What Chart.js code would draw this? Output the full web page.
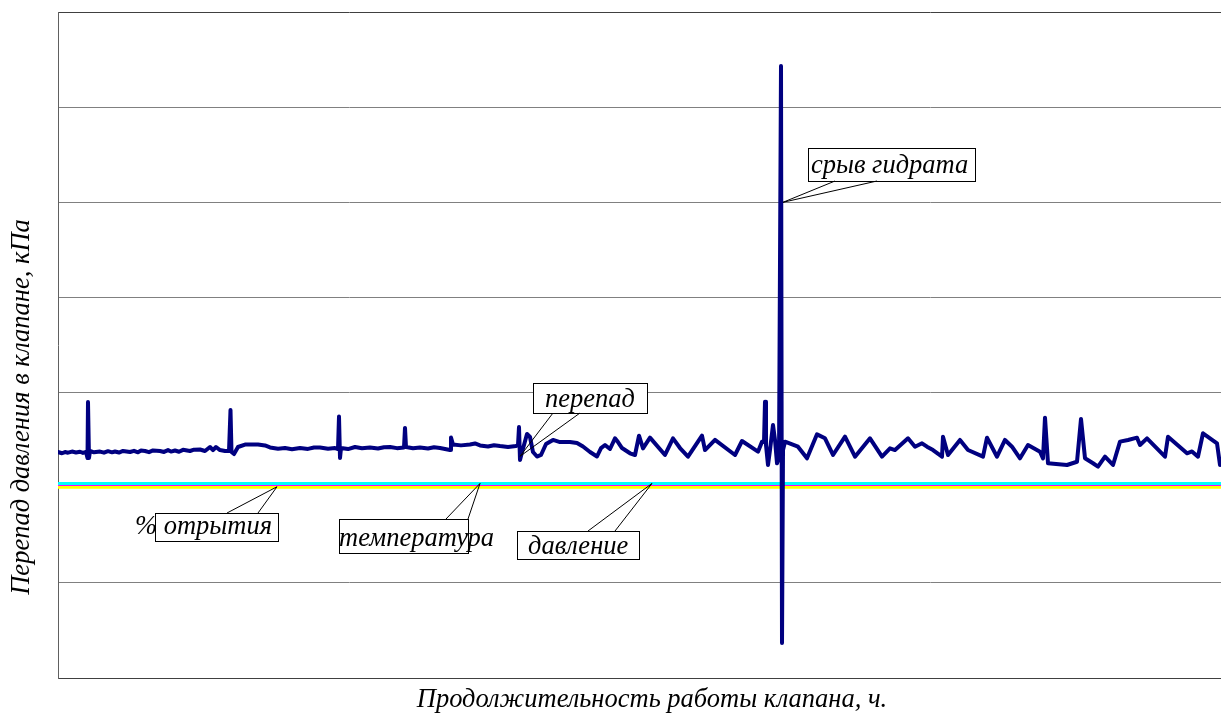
<!DOCTYPE html>
<html>
<head>
<meta charset="utf-8">
<script src="https://cdn.jsdelivr.net/npm/chart.js@4/dist/chart.umd.min.js"></script>
<style>
  html, body { margin: 0; padding: 0; background: #fff; }
  #wrap { width: 1221px; height: 716px; }
</style>
</head>
<body>
<div id="wrap"><canvas id="myChart"></canvas></div>
<script>
// hours of valve operation
const hours = [
  0, 0.4, 0.7, 1.0, 1.4, 1.8, 2.2, 2.5, 2.8, 2.95,
  3.0, 3.1, 3.2, 3.6, 4.2, 4.6, 5.0, 5.4, 5.7, 6.1,
  6.5, 7.2, 7.6, 8.0, 8.3, 8.7, 9.1, 9.5, 10.2, 10.6,
  11.0, 11.3, 11.7, 12.1, 12.5, 13.2, 13.6, 14.2, 14.7, 15.2,
  15.5, 15.8, 16.2, 16.7, 17.1, 17.25, 17.35, 17.6, 18.0, 18.7,
  20.0, 20.7, 21.2, 22.0, 22.7, 23.4, 24.2, 25.0, 25.6, 26.2,
  27.0, 27.7, 28.0, 28.1, 28.2, 28.3, 29.0, 29.7, 30.4, 31.2,
  32.0, 32.6, 33.2, 33.9, 34.6, 34.7, 34.8, 35.5, 36.2, 37.0,
  37.6, 38.2, 39.2, 39.3, 39.5, 40.3, 41.2, 41.7, 42.2, 43.0,
  43.6, 44.2, 45.0, 45.8, 46.0, 46.1, 46.2, 46.4, 46.6, 46.9,
  47.2, 47.5, 47.9, 48.3, 48.8, 49.5, 50.2, 51.2, 51.9, 52.5,
  53.2, 53.9, 54.3, 54.7, 55.2, 55.7, 56.0, 56.4, 57.2, 57.7,
  58.1, 58.5, 59.2, 60.7, 61.5, 62.2, 63.0, 64.4, 64.7, 65.7,
  67.7, 68.4, 70.0, 70.4, 70.6, 70.7, 70.8, 71.0, 71.2, 71.5,
  71.7, 71.9, 72.1, 72.3, 72.4, 72.5, 72.7, 74.0, 74.9, 75.9,
  76.7, 77.5, 78.7, 79.7, 81.2, 82.4, 83.2, 83.7, 85.0, 85.7,
  86.4, 86.9, 87.5, 88.4, 88.5, 89.0, 90.2, 91.0, 92.5, 92.9,
  93.9, 94.7, 95.4, 96.2, 97.0, 98.2, 98.5, 98.7, 99.0, 100.9,
  101.9, 102.3, 102.7, 103.5, 104.0, 104.7, 105.5, 106.2, 107.0, 107.9,
  108.2, 108.9, 110.7, 111.0, 112.9, 113.4, 114.0, 114.5, 115.9, 116.2
];

// pressure drop in the valve, kPa
const perepad = [
  23.75, 23.62, 23.75, 23.68, 23.80, 23.70, 23.78, 23.66, 23.75, 23.12,
  29.01, 23.12, 23.86, 23.72, 23.80, 23.68, 23.84, 23.72, 23.81, 23.70,
  23.86, 23.75, 23.88, 23.72, 23.90, 23.86, 23.74, 23.92, 23.86, 23.76,
  23.95, 23.80, 23.91, 23.78, 23.98, 23.86, 24.00, 24.02, 23.86, 24.28,
  23.96, 24.28, 23.96, 23.86, 23.86, 28.17, 23.75, 23.54, 24.28, 24.54,
  24.54, 24.44, 24.23, 24.10, 24.17, 24.05, 24.17, 24.08, 24.22, 24.23,
  24.10, 24.17, 24.07, 27.48, 23.12, 24.17, 24.06, 24.28, 24.15, 24.23,
  24.12, 24.26, 24.28, 24.16, 24.23, 26.28, 24.28, 24.15, 24.23, 24.12,
  24.25, 24.17, 23.96, 25.28, 24.54, 24.45, 24.54, 24.65, 24.44, 24.33,
  24.47, 24.38, 24.28, 24.38, 24.49, 26.38, 22.91, 23.75, 24.49, 25.65,
  25.33, 23.75, 23.28, 23.44, 24.59, 25.02, 24.80, 24.80, 24.70, 24.33,
  23.75, 23.28, 24.17, 24.49, 24.07, 25.19, 24.80, 24.17, 23.62, 23.44,
  25.47, 24.14, 25.26, 23.44, 25.19, 24.17, 23.26, 25.47, 23.96, 25.02,
  23.44, 24.91, 23.79, 24.84, 24.80, 29.04, 24.49, 22.39, 23.96, 26.59,
  25.02, 22.57, 23.12, 64.32, 3.68, 23.96, 24.84, 24.31, 23.09, 25.61,
  25.19, 23.44, 25.36, 23.26, 25.19, 23.26, 24.14, 23.96, 25.19, 24.31,
  24.67, 24.31, 23.96, 23.26, 25.36, 23.44, 25.02, 23.96, 23.26, 25.26,
  23.26, 25.02, 24.31, 23.09, 24.49, 23.79, 23.09, 27.36, 22.57, 22.39,
  22.73, 27.22, 23.09, 22.57, 22.21, 23.26, 22.39, 24.84, 25.02, 25.26,
  24.49, 25.19, 23.26, 25.36, 23.62, 23.81, 23.26, 25.72, 24.67, 22.39
];

// the other three signals, flat over the whole run
const flatHours = [0, 116.3];
const otkrytie = [20.45, 20.45];
const temperatura = [20.25, 20.25];
const davlenie = [20.05, 20.05];

const yMin = 0;
const yMax = 70;
const yStep = 10;
const xMax = 116.3;

const xTitle = 'Продолжительность работы клапана, ч.';
const yTitle = 'Перепад давления в клапане, кПа';

function toPoints(xs, ys) {
  return xs.map((x, i) => ({ x: x, y: ys[i] }));
}

// callouts: text, the point it shows (data units), box and pointer base in pixels
const callouts = [
  { text: 'срыв гидрата', at: [72.5, 50], box: [808, 148, 975, 181], tx: 811, ty: 173, base: [[835, 181], [877, 181]] },
  { text: 'перепад', at: [46.2, 23.3], box: [533, 383, 647, 413], tx: 545, ty: 407, base: [[553, 413], [580, 413]] },
  { text: '% отрытия', at: [21.9, 20.1], box: [155, 513, 278, 541], tx: 135, ty: 534, base: [[227, 513], [258, 513]] },
  { text: 'температура', at: [42.2, 20.45], box: [339, 519, 468, 553], tx: 339, ty: 546, base: [[446, 519], [468, 519]] },
  { text: 'давление', at: [59.4, 20.45], box: [517, 531, 639, 559], tx: 528, ty: 554, base: [[588, 531], [615, 531]] }
];

const FONT = 'italic 26.5px "Liberation Serif"';

const calloutPlugin = {
  id: 'callouts',
  afterDatasetsDraw(chart) {
    const ctx = chart.ctx;
    const xs = chart.scales.x;
    const ys = chart.scales.y;
    ctx.save();
    callouts.forEach(c => {
      const px = xs.getPixelForValue(c.at[0]);
      const py = ys.getPixelForValue(c.at[1]);
      const [l, t, r, b] = c.box;
      ctx.fillStyle = '#fff';
      ctx.fillRect(l, t, r - l, b - t);
      ctx.strokeStyle = '#000';
      ctx.lineWidth = 1;
      ctx.strokeRect(l + 0.5, t + 0.5, r - l, b - t);
      ctx.beginPath();
      ctx.moveTo(c.base[0][0], c.base[0][1]);
      ctx.lineTo(px, py);
      ctx.lineTo(c.base[1][0], c.base[1][1]);
      ctx.stroke();
      ctx.fillStyle = '#000';
      ctx.font = FONT;
      ctx.textBaseline = 'alphabetic';
      ctx.fillText(c.text, c.tx, c.ty);
    });
    ctx.restore();
  }
};

// axis titles sit off-centre in the original, so they are drawn here
const titlePlugin = {
  id: 'axisTitles',
  afterDraw(chart) {
    const ctx = chart.ctx;
    ctx.save();
    ctx.fillStyle = '#000';
    ctx.font = FONT;
    ctx.textAlign = 'center';
    ctx.textBaseline = 'middle';
    ctx.fillText(xTitle, 652, 700);
    ctx.translate(22, 407);
    ctx.rotate(-Math.PI / 2);
    ctx.fillText(yTitle, 0, 0);
    ctx.restore();
  }
};

document.addEventListener("DOMContentLoaded", function () {
  const ctx = document.getElementById('myChart');
  new Chart(ctx, {
    type: 'line',
    data: {
      datasets: [{
        label: 'перепад',
        data: toPoints(hours, perepad),
        borderColor: '#000080',
        borderWidth: 4,
        borderJoinStyle: 'round',
        borderCapStyle: 'round',
        pointRadius: 0,
        tension: 0
      }, {
        label: '% отрытия',
        data: toPoints(flatHours, otkrytie),
        borderColor: '#00ffff',
        borderWidth: 3,
        pointRadius: 0
      }, {
        label: 'температура',
        data: toPoints(flatHours, temperatura),
        borderColor: '#ff00ff',
        borderWidth: 1.5,
        pointRadius: 0
      }, {
        label: 'давление',
        data: toPoints(flatHours, davlenie),
        borderColor: '#ffff00',
        borderWidth: 3,
        pointRadius: 0
      }]
    },
    options: {
      responsive: true,
      maintainAspectRatio: false,
      animation: false,
      layout: { padding: { top: 12, left: 58, right: 0, bottom: 38 } },
      plugins: {
        legend: { display: false },
        tooltip: { enabled: false }
      },
      scales: {
        x: {
          type: 'linear',
          min: 0,
          max: xMax,
          grid: { display: false, drawTicks: false },
          border: { display: true, color: '#404040', width: 1 },
          ticks: { display: false }
        },
        y: {
          min: yMin,
          max: yMax,
          ticks: { display: false, stepSize: yStep },
          grid: {
            drawTicks: false,
            color: c => c.tick && c.tick.value === yMax ? '#404040' : '#808080',
            lineWidth: 1
          },
          border: { display: true, color: '#606060', width: 1 }
        }
      }
    },
    plugins: [calloutPlugin, titlePlugin]
  });
});
</script>
</body>
</html>
